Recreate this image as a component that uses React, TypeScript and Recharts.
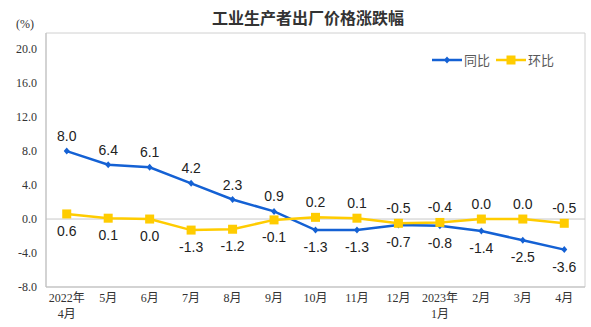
import React from 'react';
import { LineChart, Line, XAxis, YAxis, ReferenceLine, ReferenceArea, LabelList } from 'recharts';

const categories = ['2022年\n4月', '5月', '6月', '7月', '8月', '9月', '10月', '11月', '12月', '2023年\n1月', '2月', '3月', '4月'];
const yoy = [8.0, 6.4, 6.1, 4.2, 2.3, 0.9, -1.3, -1.3, -0.7, -0.8, -1.4, -2.5, -3.6];
const mom = [0.6, 0.1, 0.0, -1.3, -1.2, -0.1, 0.2, 0.1, -0.5, -0.4, 0.0, 0.0, -0.5];
const yTicks = [-8, -4, 0, 4, 8, 12, 16, 20];

const data = categories.map((c, i) => ({ name: c, yoy: yoy[i], mom: mom[i] }));

const BLUE = '#1461d4';
const YELLOW = '#FFCC00';
const SERIF = '"Liberation Serif", "Times New Roman", "Noto Sans CJK SC", serif';
const SANS = '"Liberation Sans", Arial, "Noto Sans CJK SC", sans-serif';

const XTick = (props: any) => {
  const { x, y, payload } = props;
  const lines = String(payload.value).split('\n');
  return (
    <g>
      {lines.map((l, i) => (
        <text key={i} x={x} y={y + 7 + i * 16} textAnchor="middle" fontSize={12} fill="#333" fontFamily={SERIF}>
          {l}
        </text>
      ))}
    </g>
  );
};

const YTick = (props: any) => {
  const { x, y, payload } = props;
  return (
    <text x={x - 1} y={y + 4} textAnchor="end" fontSize={12} fill="#333" fontFamily={SERIF}>
      {Number(payload.value).toFixed(1)}
    </text>
  );
};

const Diamond = (props: any) => {
  const { cx, cy } = props;
  if (cx == null || cy == null) return null;
  return <path d={`M${cx},${cy - 3.5}L${cx + 3},${cy}L${cx},${cy + 3.5}L${cx - 3},${cy}Z`} fill={BLUE} />;
};

const Square = (props: any) => {
  const { cx, cy } = props;
  if (cx == null || cy == null) return null;
  return <rect x={cx - 4.5} y={cy - 4.5} width={9} height={9} fill={YELLOW} />;
};

const makeLabel = (aboveFirst: boolean) => (props: any) => {
  const { x, y, value, index } = props;
  const above = aboveFirst ? index < 6 : index >= 6;
  const ty = above ? y - 10 : y + 22;
  return (
    <text x={x} y={ty} textAnchor="middle" fontSize={14} fill="#222" fontFamily={SANS}>
      {Number(value).toFixed(1)}
    </text>
  );
};

export default function App() {
  return (
    <div style={{ position: 'absolute', left: 0, top: 0, width: 591, height: 327, background: '#fff' }}>
      <div style={{ position: 'absolute', left: 0, width: 616, top: 6, textAlign: 'center', fontSize: 16, fontWeight: 700, color: '#333', fontFamily: '"Noto Sans CJK SC", sans-serif', lineHeight: '22px' }}>
        工业生产者出厂价格涨跌幅
      </div>
      <div style={{ position: 'absolute', left: 16, top: 17, fontSize: 12, color: '#333', fontFamily: SERIF }}>(%)</div>
      <div style={{ position: 'absolute', left: 432, top: 51, display: 'flex', alignItems: 'center', fontSize: 13, color: '#595959', fontFamily: '"Noto Sans CJK SC", sans-serif', lineHeight: '18px' }}>
        <svg width={30} height={10}>
          <line x1={0} y1={5} x2={30} y2={5} stroke={BLUE} strokeWidth={2.5} />
          <path d="M15,1.5L18,5L15,8.5L12,5Z" fill={BLUE} />
        </svg>
        <span style={{ marginLeft: 2, marginRight: 6 }}>同比</span>
        <svg width={30} height={10}>
          <line x1={0} y1={5} x2={30} y2={5} stroke={YELLOW} strokeWidth={2.5} />
          <rect x={10.5} y={0.5} width={9} height={9} fill={YELLOW} />
        </svg>
        <span style={{ marginLeft: 2 }}>环比</span>
      </div>
      <LineChart width={591} height={327} data={data} margin={{ top: 33, right: 6, bottom: 0, left: 0 }}>
        <ReferenceArea y1={-8} y2={21.9} fill="none" stroke="#d0d0d0" strokeWidth={1} ifOverflow="visible" />
        <XAxis dataKey="name" scale="band" interval={0} height={40} tick={<XTick />} tickLine={false} axisLine={{ stroke: '#bfbfbf' }} />
        <YAxis width={46} domain={[-8, 21.9]} ticks={yTicks} allowDataOverflow tick={<YTick />} tickLine={false} axisLine={{ stroke: '#bfbfbf' }} />
        <ReferenceLine y={0} stroke="#c8c8c8" strokeWidth={1} />
        <Line dataKey="yoy" stroke={BLUE} strokeWidth={2.5} dot={<Diamond />} activeDot={false} isAnimationActive={false}>
          <LabelList dataKey="yoy" content={makeLabel(true)} />
        </Line>
        <Line dataKey="mom" stroke={YELLOW} strokeWidth={2.5} dot={<Square />} activeDot={false} isAnimationActive={false}>
          <LabelList dataKey="mom" content={makeLabel(false)} />
        </Line>
      </LineChart>
    </div>
  );
}
